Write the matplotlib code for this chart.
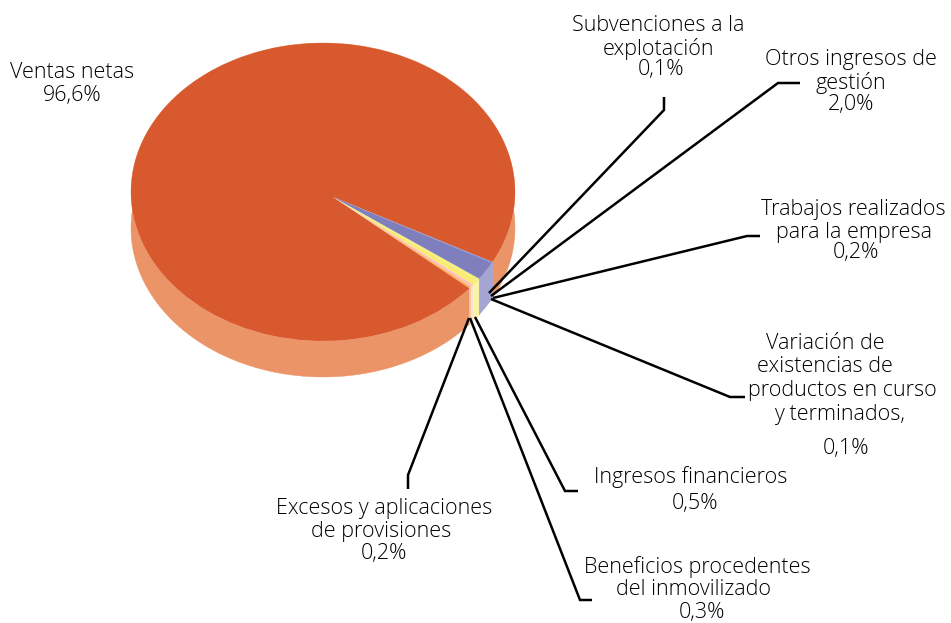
import numpy as np
import matplotlib
matplotlib.use("Agg")
import matplotlib.pyplot as plt

categories = ["Ventas netas", "Excesos y aplicaciones de provisiones",
              "Beneficios procedentes del inmovilizado", "Ingresos financieros",
              "Variación de existencias de productos en curso y terminados,",
              "Trabajos realizados para la empresa", "Otros ingresos de gestión",
              "Subvenciones a la explotación"]
shares = [96.6, 0.2, 0.3, 0.5, 0.1, 0.2, 2.0, 0.1]
top_colors = ["#D9592E", "#FFB04F", "#FFBDBD", "#F5EC70", "#F5EC70", "#F5EC70", "#7F7FBD", "#7F7FBD"]
side_colors = ["#EB9468", "#FBCB92", "#FFE0D8", "#F9F3A4", "#F9F3A4", "#F9F3A4", "#A5A5D4", "#A5A5D4"]

W, H = 951, 623
fig = plt.figure(figsize=(W / 100, H / 100), dpi=100, facecolor="white")
plt.rcParams["font.family"] = ["Open Sans", "DejaVu Sans"]

# Overlay in pixel coordinates for leaders and labels
ov = fig.add_axes([0, 0, 1, 1], zorder=3)
ov.set_xlim(0, W); ov.set_ylim(H, 0); ov.axis("off"); ov.patch.set_alpha(0)

# Pie axes: the unit circle maps onto the projected ellipse
L, R, T, B = 131, 515, 43, 341
ax = fig.add_axes([L / W, 1 - B / H, (R - L) / W, (B - T) / H], zorder=1)
start = -28.0
depth = 36 / ((B - T) / 2)
apex = ((333 - (L + R) / 2) / ((R - L) / 2), -(197 - (T + B) / 2) / ((B - T) / 2))

# Rim bands, one for each slice
total = sum(shares)
a0 = start
for v, c in zip(shares, side_colors):
    a1 = a0 + 360 * v / total
    th = np.radians(np.linspace(a0, a1, 400))
    xs = np.r_[np.cos(th), np.cos(th)[::-1]]
    ys = np.r_[np.sin(th), np.sin(th)[::-1] - depth]
    ax.fill(xs, ys, color=c, lw=0.3, clip_on=False, zorder=1)
    a0 = a1

wedges, _ = ax.pie(shares, colors=top_colors, startangle=start, counterclock=True,
                   radius=1, wedgeprops=dict(lw=0, clip_on=False, zorder=2))
for w in wedges:
    p = w.get_path()
    v = p.vertices.copy()
    mask = np.hypot(v[:, 0], v[:, 1]) < 1e-6
    v[mask] = apex
    p.vertices = v
ax.set_aspect("auto")
ax.set_xlim(-1, 1); ax.set_ylim(-1, 1); ax.axis("off")

# Leader lines (pixels)
leaders = [
    [(664, 97), (664, 110), (489, 293)],
    [(800, 83), (778, 83), (491, 296)],
    [(760, 236), (747, 236), (493, 298)],
    [(745, 397), (730, 397), (491, 299)],
    [(578, 491), (565, 491), (475, 317)],
    [(592, 600), (580, 600), (470, 318)],
    [(408, 489), (408, 475), (469, 318)],
]
for pts in leaders:
    xs, ys = zip(*pts)
    ov.plot(xs, ys, color="black", lw=1.8, solid_capstyle="butt", solid_joinstyle="miter")

labels = [
    ("Ventas netas", 72, 71), ("96,6%", 72, 94),
    ("Subvenciones a la", 658, 24), ("explotación", 658, 47), ("0,1%", 661, 68),
    ("Otros ingresos de", 851, 58), ("gestión", 851, 81), ("2,0%", 851, 103),
    ("Trabajos realizados", 853, 208), ("para la empresa", 854, 231), ("0,2%", 856, 251),
    ("Variación de", 825, 342), ("existencias de", 825, 365),
    ("productos en curso", 842, 389), ("y terminados,", 840, 413), ("0,1%", 846, 447),
    ("Ingresos financieros", 691, 476), ("0,5%", 695, 502),
    ("Beneficios procedentes", 697, 566), ("del inmovilizado", 694, 588), ("0,3%", 702, 611),
    ("Excesos y aplicaciones", 384, 507), ("de provisiones", 381, 530), ("0,2%", 384, 552),
]
for s, x, y in labels:
    ov.text(x, y + 1.5, s, ha="center", va="center", fontsize=15.5, fontweight="light", color="black")

fig.savefig("out.png", dpi=100)
